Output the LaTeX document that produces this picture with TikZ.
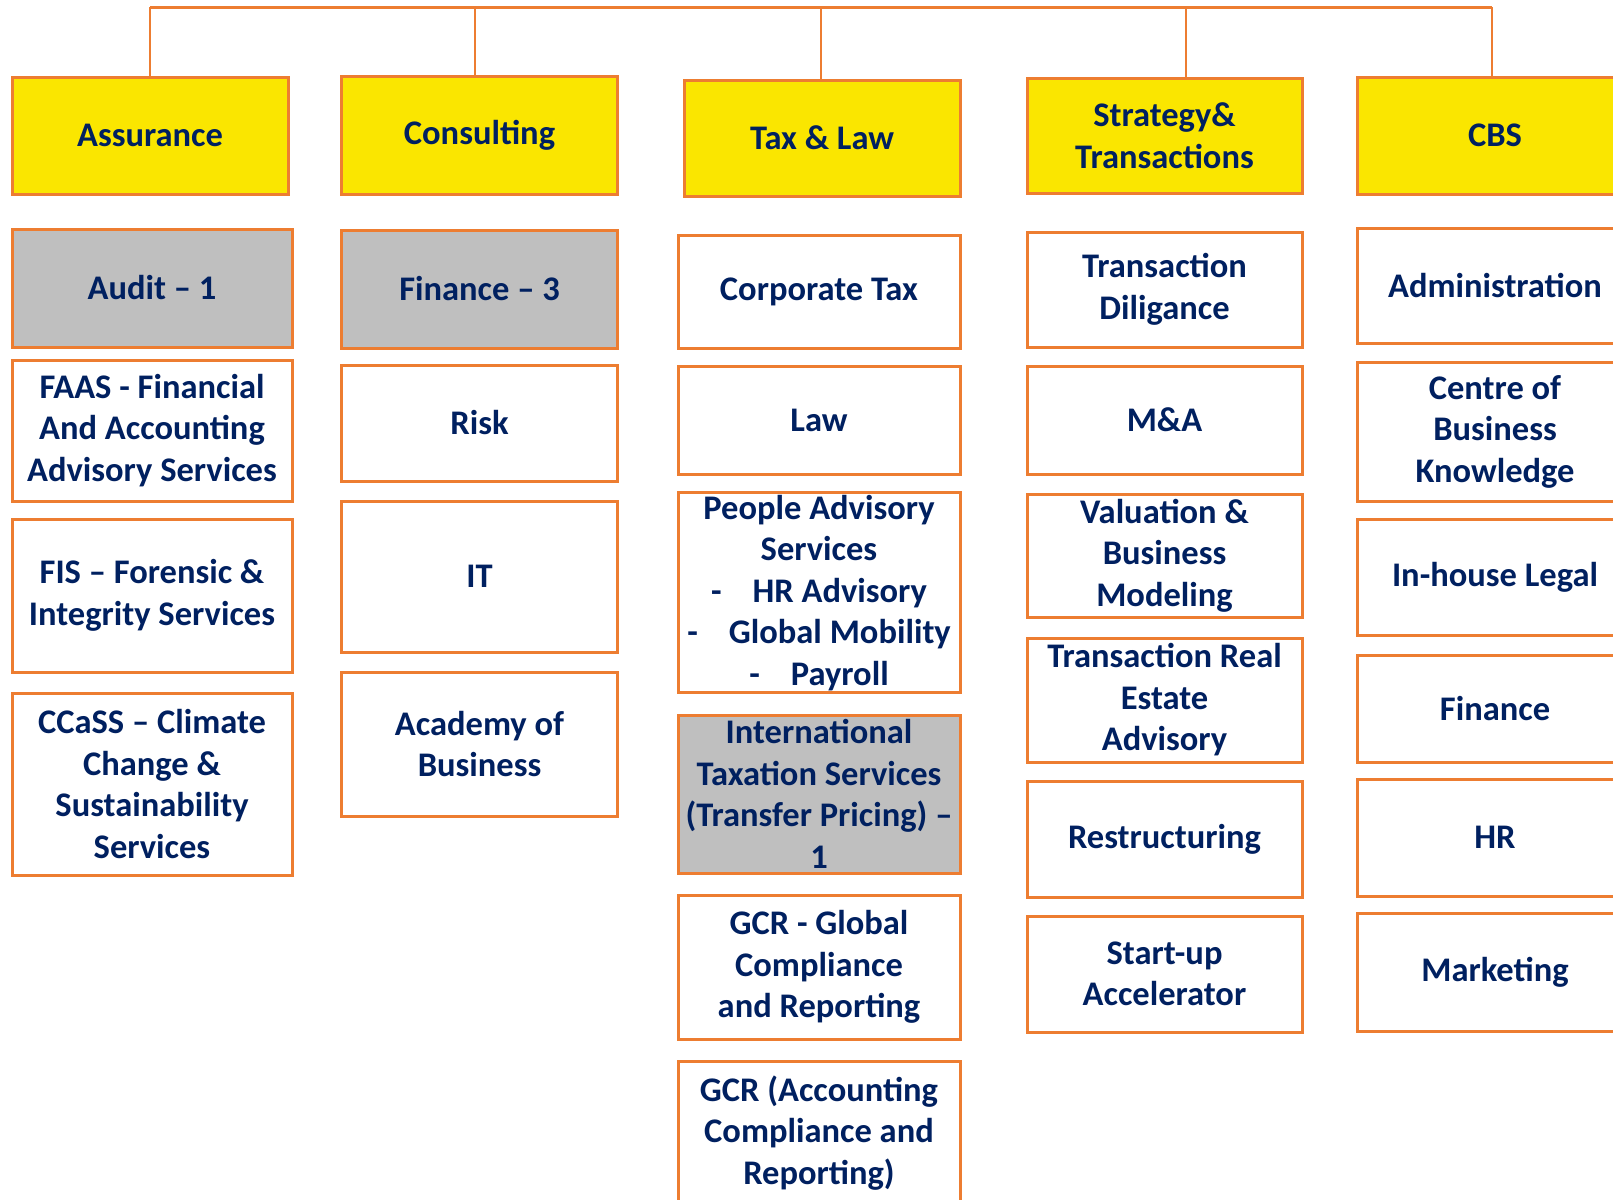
\documentclass[tikz,border=0pt]{standalone}
\usepackage{fontspec}
\setmainfont{Carlito}
\usepackage{tikz}
\usetikzlibrary{calc}
\definecolor{orangeBord}{HTML}{ED7D31}
\definecolor{jauneEntete}{HTML}{FAE600}
\definecolor{grisCase}{HTML}{BFBFBF}
\definecolor{bleuTexte}{HTML}{002060}
\tikzset{
	boite/.style={draw=orangeBord, line width=3pt, fill=white, inner sep=0pt, align=center,
		text=bleuTexte, font=\bfseries\fontsize{34.5}{41.5}\selectfont},
	entete/.style={boite, fill=jauneEntete},
	boitegrise/.style={boite, fill=grisCase},
	lien/.style={draw=orangeBord, line width=2.2pt}
}
% style, nom, centre, largeur, hauteur, texte
\newcommand{\Case}[6]{\node[#1, minimum width=#4pt, minimum height=#5pt] (#2) at (#3) {#6}}

\begin{document}
\begin{tikzpicture}[x=1pt,y=-1pt]
	\def\largeur{1613}
	\def\hauteur{1199}
	\useasboundingbox (0,0) rectangle (\largeur,\hauteur);
	\clip (0,0) rectangle (\largeur,\hauteur); % la derniere colonne depasse
	\fill[white] (0,0) rectangle (\largeur,\hauteur);
	
	%Entetes
	\Case{entete}{assur}{150,135.5}{276}{117}{Assurance};
	\Case{entete}{consult}{479.5,135}{276}{118}{Consulting};
	\Case{entete}{fisc}{822,138}{276}{116}{Tax \& Law};
	\Case{entete}{strat}{1164.5,135.5}{275}{115}{Strategy\&\\Transactions};
	\Case{entete}{cbs}{1495,135.5}{276}{117}{CBS};
	
	%Assurance
	\Case{boitegrise}{audit}{152,288}{280}{118}{Audit -- 1};
	\Case{boite}{faas}{152,430.5}{280}{141}{FAAS - Financial\\And Accounting\\Advisory Services};
	\Case{boite}{fis}{152,595.5}{280}{153}{FIS -- Forensic \&\\Integrity Services};
	\Case{boite}{ccass}{152,784}{280}{182}{CCaSS -- Climate\\Change \&\\Sustainability\\Services};
	
	%Consulting
	\Case{boitegrise}{finance}{479.5,289}{276}{118}{Finance -- 3};
	\Case{boite}{risk}{479.5,423}{276}{116}{Risk};
	\Case{boite}{it}{479.5,576.5}{276}{151}{IT};
	\Case{boite}{academy}{479.5,744}{276}{144}{Academy of\\Business};
	
	%Tax & Law
	\Case{boite}{corpo}{819,291.5}{282}{113}{Corporate Tax};
	\Case{boite}{law}{819,420}{282}{108}{Law};
	\Case{boite}{people}{819,592.7}{282}{200}{People Advisory\\Services\\-\hspace{0.9em}HR Advisory\\-\hspace{0.9em}Global Mobility\\-\hspace{0.9em}Payroll};
	\Case{boitegrise}{itax}{819,794}{282}{158}{International\\Taxation Services\\(Transfer Pricing) --\\1};
	\Case{boite}{gcrg}{819,967}{282}{144}{GCR - Global\\Compliance\\and Reporting};
	\Case{boite}{gcra}{819,1133}{282}{144}{GCR (Accounting\\Compliance and\\Reporting)};
	
	%Strategy&
	\Case{boite}{diligance}{1164.5,289.5}{275}{115}{Transaction\\Diligance};
	\Case{boite}{ma}{1164.5,420}{275}{108}{M\&A};
	\Case{boite}{valuation}{1164.5,555.5}{275}{123}{Valuation \&\\Business\\Modeling};
	\Case{boite}{realestate}{1164.5,700}{275}{124}{Transaction Real\\Estate\\Advisory};
	\Case{boite}{restruct}{1164.5,839}{275}{116}{Restructuring};
	\Case{boite}{startup}{1164.5,974}{275}{116}{Start-up\\Accelerator};
	
	%CBS
	\Case{boite}{admin}{1495,285.5}{276}{115}{Administration};
	\Case{boite}{centre}{1495,431.5}{276}{139}{Centre of\\Business\\Knowledge};
	\Case{boite}{legal}{1495,577}{276}{116}{In-house Legal};
	\Case{boite}{financecbs}{1495,708.5}{276}{107}{Finance};
	\Case{boite}{hr}{1495,837.5}{276}{117}{HR};
	\Case{boite}{marketing}{1495,972}{276}{118}{Marketing};
	
	%Liens
	\foreach \nom/\x in {assur/150, consult/475, fisc/821, strat/1186, cbs/1492}{
		\coordinate (haut-\nom) at (\x,7.5);
		\draw[lien] (haut-\nom) -- (haut-\nom |- \nom.north);
	}
	\draw[lien] (haut-assur) -- (haut-cbs);
	
\end{tikzpicture}
\end{document}
